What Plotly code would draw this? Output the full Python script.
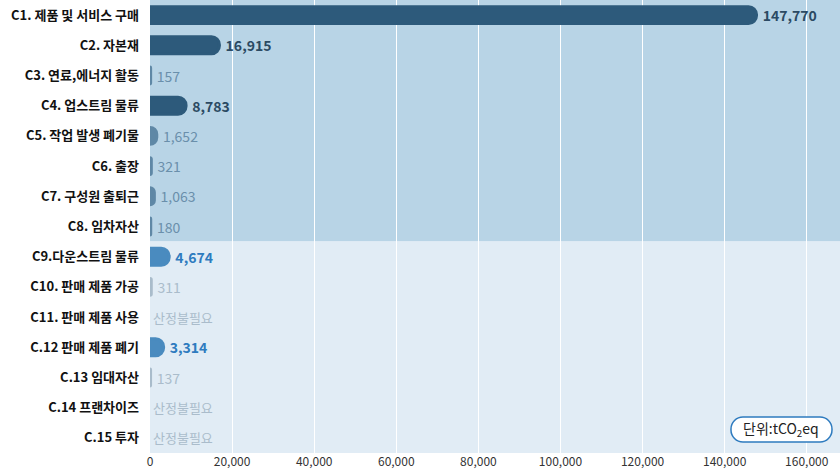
import plotly.graph_objects as go

categories = ["C1. 제품 및 서비스 구매", "C2. 자본재", "C3. 연료,에너지 활동", "C4. 업스트림 물류",
              "C5. 작업 발생 폐기물", "C6. 출장", "C7. 구성원 출퇴근", "C8. 임차자산",
              "C9.다운스트림 물류", "C10. 판매 제품 가공", "C11. 판매 제품 사용", "C.12 판매 제품 폐기",
              "C.13 임대자산", "C.14 프랜차이즈", "C.15 투자"]
values = [147770, 16915, 157, 8783, 1652, 321, 1063, 180, 4674, 311, None, 3314, 137, None, None]
not_required_label = "산정불필요"
tick_values = [0, 20000, 40000, 60000, 80000, 100000, 120000, 140000, 160000]
tick_labels = ["0", "20,000", "40,000", "60,000", "80,000", "100,000", "120,000", "140,000", "160,000"]
unit_label = "단위:tCO<sub>2</sub>eq"

# style groups
DARK, MUTED, BLUE, GRAY = "#2d5a7b", "#5f88a6", "#4a8bbf", "#a9bccb"
bar_colors = [DARK, DARK, MUTED, DARK, MUTED, MUTED, MUTED, MUTED, BLUE, GRAY, GRAY, BLUE, GRAY, GRAY, GRAY]
text_colors = ["#2b4a63", "#2b4a63", "#6a8fab", "#2b4a63", "#6a8fab", "#6a8fab", "#6a8fab", "#6a8fab",
               "#2e7bbf", "#aabccb", "#aabccb", "#2e7bbf", "#aabccb", "#aabccb", "#aabccb"]
text_weights = ["bold", "bold", "normal", "bold", "normal", "normal", "normal", "normal",
                "bold", "normal", "normal", "bold", "normal", "normal", "normal"]

FONT = "Noto Sans CJK KR"

texts = ["\u00a0" + f"{v:,}" if v is not None else " " for v in values]

fig = go.Figure()
fig.add_trace(go.Bar(
    y=categories, x=values, orientation="h",
    marker=dict(color=bar_colors, cornerradius=8, line=dict(width=3, color=bar_colors)),
    text=texts, textposition="outside", cliponaxis=True, constraintext="none",
    textfont=dict(family=FONT, size=14, color=text_colors, weight=text_weights),
    hoverinfo="skip",
))

annotations = []
for cat, v in zip(categories, values):
    if v is None:
        annotations.append(dict(x=0, y=cat, xref="x", yref="y", text=not_required_label,
                                showarrow=False, xanchor="left", xshift=1,
                                font=dict(family=FONT, size=13, color="#aabccb")))

# unit label box
AX, AY = 0.9152, 0.0519
annotations.append(dict(x=AX, y=AY, xref="paper", yref="paper", text=unit_label,
                        showarrow=False, xanchor="center", yanchor="middle",
                        font=dict(family=FONT, size=14, color="#222222")))

shapes = [
    dict(type="rect", xref="paper", yref="y", x0=0, x1=1, y0=-0.5, y1=7.5,
         fillcolor="#b8d4e6", line=dict(width=0), layer="below"),
    dict(type="rect", xref="paper", yref="y", x0=0, x1=1, y0=7.5, y1=14.5,
         fillcolor="#e1ecf5", line=dict(width=0), layer="below"),
]
# rounded box, pixel-sized around paper anchor
w, h, r = 101, 25, 12
x0, x1, y0, y1 = -w / 2, w / 2, -h / 2, h / 2
path = (f"M {x0 + r},{y0} L {x1 - r},{y0} C {x1 - r * 0.45},{y0} {x1},{y0 + r * 0.45} {x1},{y0 + r} "
        f"L {x1},{y1 - r} C {x1},{y1 - r * 0.45} {x1 - r * 0.45},{y1} {x1 - r},{y1} "
        f"L {x0 + r},{y1} C {x0 + r * 0.45},{y1} {x0},{y1 - r * 0.45} {x0},{y1 - r} "
        f"L {x0},{y0 + r} C {x0},{y0 + r * 0.45} {x0 + r * 0.45},{y0} {x0 + r},{y0} Z")
shapes.append(dict(type="path", xref="paper", yref="paper", xsizemode="pixel", ysizemode="pixel",
                   xanchor=AX, yanchor=AY, path=path,
                   fillcolor="white", line=dict(color="#2e7bbf", width=1.5), layer="above"))

fig.update_layout(
    width=840, height=470,
    margin=dict(l=150, r=0, t=0, b=17),
    paper_bgcolor="white", plot_bgcolor="rgba(0,0,0,0)",
    bargap=0.44, showlegend=False,
    shapes=shapes, annotations=annotations,
    font=dict(family=FONT),
)
fig.update_xaxes(range=[0, 168100], tickvals=tick_values, ticktext=tick_labels,
                 showgrid=True, gridcolor="white", gridwidth=1, zeroline=False,
                 tickfont=dict(family=FONT, size=12, color="#333333"), ticks="", showline=False,
                 fixedrange=True, automargin=False, ticklabelstandoff=0)
fig.update_yaxes(autorange="reversed", categoryorder="array", categoryarray=categories,
                 showgrid=False, zeroline=False, ticks="", ticklabelstandoff=10,
                 tickfont=dict(family=FONT, size=13, color="#111111", weight="bold"),
                 fixedrange=True, automargin=False)

fig.write_html("out.html", config={"displayModeBar": False},
               post_script="document.body.style.margin='0';document.body.style.overflow='hidden';")
